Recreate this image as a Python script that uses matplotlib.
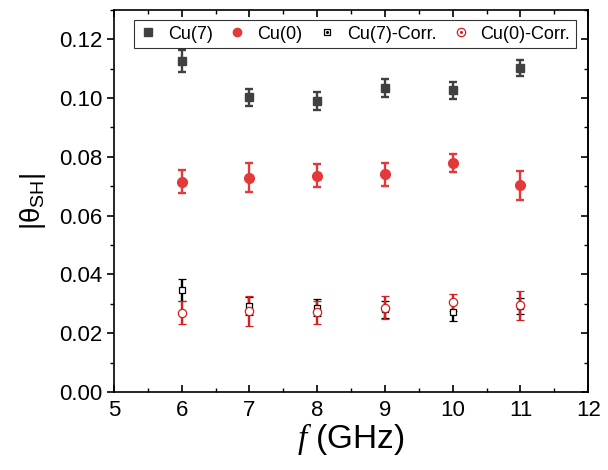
import numpy as np
import matplotlib
matplotlib.use('Agg')
import matplotlib.pyplot as plt
from matplotlib.lines import Line2D
from matplotlib.legend_handler import HandlerTuple

plt.rcParams['font.family'] = ['Liberation Sans', 'DejaVu Sans']
plt.rcParams['mathtext.fontset'] = 'custom'
plt.rcParams['mathtext.rm'] = 'Liberation Sans'
plt.rcParams['mathtext.it'] = 'Liberation Serif:italic'

# Frequencies (GHz)
freq = [6, 7, 8, 9, 10, 11]

# Cu(7)
cu7 = [0.1127, 0.1002, 0.0990, 0.1035, 0.1026, 0.1103]
cu7_err = [0.0037, 0.0029, 0.0032, 0.0030, 0.0030, 0.0028]

# Cu(0)
cu0 = [0.0715, 0.0729, 0.0736, 0.0741, 0.0780, 0.0703]
cu0_err = [0.0039, 0.0050, 0.0039, 0.0039, 0.0030, 0.0050]

# Cu(7)-Corr.
cu7c = [0.0348, 0.0293, 0.0287, 0.0281, 0.0273, 0.0293]
cu7c_err = [0.0037, 0.0030, 0.0030, 0.0030, 0.0030, 0.0027]

# Cu(0)-Corr.
cu0c = [0.0270, 0.0276, 0.0271, 0.0287, 0.0305, 0.0295]
cu0c_err = [0.0040, 0.0050, 0.0040, 0.0040, 0.0030, 0.0050]

gray = '#404040'
red = '#e23a3a'
dred = '#d81e1e'

fig = plt.figure(figsize=(6.08, 4.70), dpi=100)
ax = fig.add_axes([0.1875, 0.166, 0.780, 0.813])

eb = dict(linestyle='none', elinewidth=1.7, capsize=3, capthick=1.7)
ax.errorbar(freq, cu7c, yerr=cu7c_err, color='black', marker='s', ms=5,
            mfc='white', mec='black', mew=0.9, **eb)
ax.errorbar(freq, cu0c, yerr=cu0c_err, color=dred, marker='o', ms=6,
            mfc='white', mec=dred, mew=0.9, **eb)
ax.plot(freq, cu7c, linestyle='none', marker='o', ms=1.2, color='black')
ax.plot(freq, cu0c, linestyle='none', marker='o', ms=1.2, color=dred)
ax.errorbar(freq, cu7, yerr=cu7_err, color=gray, marker='s', ms=6, **eb)
ax.errorbar(freq, cu0, yerr=cu0_err, color=red, marker='o', ms=7, **eb)

ax.set_xlim(5, 12)
ax.set_ylim(0, 0.13)
ax.set_xticks(np.arange(5, 13, 1))
ax.set_xticks(np.arange(5, 12.01, 0.5), minor=True)
ax.set_yticks(np.arange(0, 0.121, 0.02))
ax.set_yticks(np.arange(0, 0.131, 0.01), minor=True)
ax.set_yticklabels(['%.2f' % v for v in np.arange(0, 0.121, 0.02)])

ax.tick_params(axis='both', which='major', labelsize=16, length=5, width=1.2)
ax.tick_params(axis='both', which='minor', length=3, width=1)
ax.tick_params(axis='x', which='both', direction='in', top=True)
ax.tick_params(axis='y', which='both', direction='out', right=False)
ax.tick_params(axis='x', which='major', pad=6)
# right side inward ticks
sec = ax.secondary_yaxis('right')
sec.set_yticks(np.arange(0, 0.121, 0.02))
sec.set_yticks(np.arange(0, 0.131, 0.01), minor=True)
sec.tick_params(which='both', direction='in', labelright=False, width=1.2)
sec.tick_params(which='major', length=5)
sec.tick_params(which='minor', length=3, width=1)
sec.spines['right'].set_linewidth(1.2)
for s in ax.spines.values():
    s.set_linewidth(1.2)

ax.set_xlabel(r'$f$ (GHz)', fontsize=24, labelpad=0)
ax.set_ylabel(r'$|\mathrm{\theta_{SH}}|$', fontsize=20, labelpad=8)

h1 = Line2D([], [], linestyle='none', marker='s', ms=5.5, color=gray)
h2 = Line2D([], [], linestyle='none', marker='o', ms=6, color=red)
h3a = Line2D([], [], linestyle='none', marker='s', ms=5, mfc='white', mec='black', mew=0.9)
h3b = Line2D([], [], linestyle='none', marker='o', ms=1.2, color='black')
h4a = Line2D([], [], linestyle='none', marker='o', ms=6, mfc='white', mec=dred, mew=0.9)
h4b = Line2D([], [], linestyle='none', marker='o', ms=1.2, color=dred)
leg = ax.legend([h1, h2, (h3a, h3b), (h4a, h4b)],
                ['Cu(7)', 'Cu(0)', 'Cu(7)-Corr.', 'Cu(0)-Corr.'],
                handler_map={tuple: HandlerTuple(ndivide=1, pad=0)},
                ncol=4, loc='upper left', bbox_to_anchor=(0.042, 0.973),
                fontsize=13, frameon=True, fancybox=False, edgecolor='black',
                borderpad=0.3, handlelength=1.0, handletextpad=0.6,
                columnspacing=0.85, borderaxespad=0)
leg.get_frame().set_linewidth(0.8)

fig.savefig('out.png', dpi=100)
